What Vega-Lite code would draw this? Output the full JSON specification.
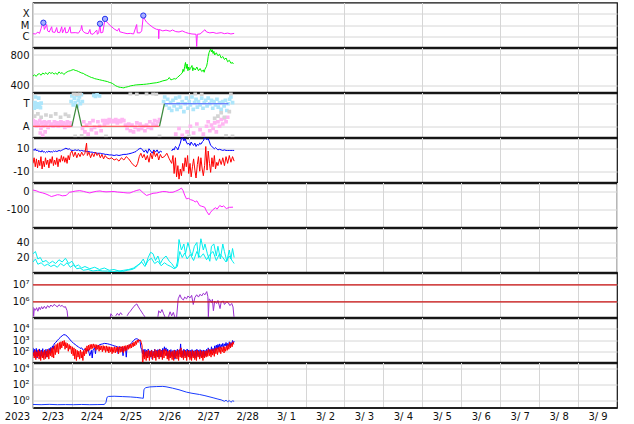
{
"$schema": "https://vega.github.io/schema/vega-lite/v6.json",
"padding": {"left": 3, "top": 1.5, "right": 2, "bottom": 2},
"bounds": "flush",
"spacing": 0,
"config": {
 "view": {"stroke": "#111", "strokeWidth": 1.2},
 "axis": {"labelFont": "DejaVu Sans", "labelColor": "#111", "gridColor": "#d6d6d6", "ticks": false, "domain": false, "titleFont": "DejaVu Sans"},
 "axisY": {"labelFontSize": 10, "labelPadding": 4, "grid": true, "labelOverlap": false, "labelBound": false},
 "axisX": {"domain": true, "domainWidth": 2.5, "domainColor": "#222", "grid": true, "labelFontSize": 10},
 "legend": {"disable": true}
},
"datasets": {
 "xray": [{"h":0,"f":1.7e-6},{"h":1.5,"f":1.6e-6},{"h":3,"f":2.3e-6},{"h":4,"f":1.8e-6},{"h":5,"f":5e-6},{"h":5.5,"f":9e-6},{"h":6.4,"f":1.5e-5},{"h":7,"f":4e-6},{"h":8.4,"f":1.1e-5},{"h":9,"f":3e-6},{"h":10,"f":2.4e-6},{"h":11.5,"f":7e-6},{"h":12,"f":2.4e-6},{"h":13.5,"f":2.2e-6},{"h":14.6,"f":6e-6},{"h":15.2,"f":2.2e-6},{"h":16.5,"f":2.1e-6},{"h":17.7,"f":7e-6},{"h":18.2,"f":2e-6},{"h":19.7,"f":6e-6},{"h":20.2,"f":2e-6},{"h":21.5,"f":2.2e-6},{"h":22.8,"f":7e-6},{"h":23.3,"f":2e-6},{"h":26,"f":2.1e-6},{"h":28,"f":1.9e-6},{"h":29.5,"f":4e-6},{"h":30,"f":9e-6},{"h":30.6,"f":3e-6},{"h":32,"f":2e-6},{"h":34,"f":1.7e-6},{"h":35.1,"f":4e-6},{"h":35.5,"f":1.7e-6},{"h":37,"f":1.5e-6},{"h":39.3,"f":3.5e-6},{"h":39.7,"f":1.5e-6},{"h":40.5,"f":2e-6},{"h":41.3,"f":1.2e-5},{"h":41.8,"f":2e-6},{"h":43,"f":2.2e-6},{"h":44.4,"f":3.3e-5},{"h":46,"f":1.5e-5},{"h":48,"f":8e-6},{"h":50,"f":4.5e-6},{"h":52,"f":3e-6},{"h":53,"f":5e-6},{"h":53.5,"f":2.5e-6},{"h":56,"f":2e-6},{"h":58,"f":1.7e-6},{"h":60,"f":1.8e-6},{"h":62,"f":1.6e-6},{"h":63.9,"f":1.1e-5},{"h":64.3,"f":2e-6},{"h":66,"f":2e-6},{"h":67,"f":3e-6},{"h":68,"f":6.5e-5},{"h":69,"f":3e-5},{"h":70,"f":1.8e-5},{"h":72,"f":1e-5},{"h":74,"f":6e-6},{"h":76,"f":4.2e-6},{"h":77.3,"f":4e-6},{"h":77.5,"f":6e-7},{"h":77.8,"f":4e-6},{"h":80,"f":3e-6},{"h":82,"f":3.5e-6},{"h":84.5,"f":2.8e-6},{"h":86,"f":3.6e-6},{"h":88,"f":2.6e-6},{"h":90,"f":2.4e-6},{"h":92,"f":3e-6},{"h":94,"f":2.2e-6},{"h":96,"f":1.8e-6},{"h":98,"f":1.6e-6},{"h":100.5,"f":1.5e-6},{"h":100.9,"f":1.2e-7},{"h":101.3,"f":1.5e-6},{"h":103,"f":1.6e-6},{"h":106,"f":3.8e-6},{"h":107,"f":2.4e-6},{"h":109,"f":2e-6},{"h":111,"f":2.2e-6},{"h":113,"f":1.8e-6},{"h":116,"f":2.1e-6},{"h":118,"f":1.7e-6},{"h":120,"f":1.9e-6},{"h":122,"f":1.6e-6},{"h":124,"f":1.8e-6}],
 "flares": [{"h":6.4,"f":1.6e-5},{"h":41.3,"f":1.3e-5},{"h":44.4,"f":3.5e-5},{"h":68,"f":6.9e-5}],
 "sw": [{"h":0,"v":520},{"h":1,"v":535},{"h":2,"v":515},{"h":3,"v":545},{"h":4,"v":550},{"h":5,"v":530},{"h":6,"v":560},{"h":7,"v":545},{"h":8,"v":565},{"h":9,"v":540},{"h":10,"v":570},{"h":11,"v":555},{"h":12,"v":565},{"h":13,"v":545},{"h":14,"v":560},{"h":15,"v":540},{"h":16,"v":575},{"h":17,"v":555},{"h":18,"v":565},{"h":19,"v":540},{"h":20,"v":560},{"h":21,"v":575},{"h":22,"v":585},{"h":23,"v":590},{"h":24,"v":600},{"h":25,"v":605},{"h":26,"v":595},{"h":27,"v":590},{"h":28,"v":580},{"h":29,"v":570},{"h":30,"v":560},{"h":31,"v":555},{"h":32,"v":540},{"h":33,"v":530},{"h":34,"v":520},{"h":35,"v":510},{"h":36,"v":500},{"h":37,"v":495},{"h":38,"v":485},{"h":39,"v":480},{"h":40,"v":475},{"h":41,"v":470},{"h":42,"v":465},{"h":43,"v":460},{"h":44,"v":455},{"h":45,"v":450},{"h":46,"v":445},{"h":47,"v":435},{"h":48,"v":430},{"h":49,"v":420},{"h":50,"v":405},{"h":51,"v":390},{"h":52,"v":380},{"h":53,"v":372},{"h":54,"v":368},{"h":55,"v":365},{"h":56,"v":362},{"h":57,"v":370},{"h":58,"v":375},{"h":59,"v":380},{"h":60,"v":388},{"h":61,"v":392},{"h":62,"v":395},{"h":63,"v":400},{"h":64,"v":402},{"h":66,"v":405},{"h":68,"v":408},{"h":70,"v":412},{"h":72,"v":418},{"h":74,"v":425},{"h":76,"v":430},{"h":78,"v":440},{"h":80,"v":455},{"h":82,"v":465},{"h":83,"v":472},{"h":84,"v":500},{"h":85,"v":468},{"h":86,"v":475},{"h":87,"v":485},{"h":88,"v":480},{"h":89,"v":500},{"h":90,"v":520},{"h":91,"v":540},{"h":92,"v":560},{"h":92.5,"v":610},{"h":93,"v":580},{"h":93.5,"v":650},{"h":94,"v":700},{"h":94.5,"v":620},{"h":95,"v":680},{"h":95.5,"v":590},{"h":96,"v":640},{"h":96.5,"v":600},{"h":97,"v":620},{"h":98,"v":660},{"h":98.5,"v":590},{"h":99,"v":630},{"h":100,"v":600},{"h":101,"v":640},{"h":102,"v":590},{"h":103,"v":620},{"h":104,"v":580},{"h":105,"v":600},{"h":105.5,"v":570},{"h":106,"v":610},{"h":107,"v":650},{"h":107.5,"v":700},{"h":108,"v":780},{"h":108.5,"v":830},{"h":109,"v":860},{"h":109.5,"v":880},{"h":110,"v":840},{"h":110.5,"v":870},{"h":111,"v":820},{"h":111.5,"v":850},{"h":112,"v":800},{"h":113,"v":830},{"h":114,"v":790},{"h":115,"v":810},{"h":116,"v":760},{"h":117,"v":780},{"h":118,"v":740},{"h":119,"v":760},{"h":120,"v":710},{"h":121,"v":730},{"h":122,"v":690},{"h":123,"v":700},{"h":123.5,"v":680}],
 "polpts": [{"h":0.3,"v":0.9,"k":"T"},{"h":0.8,"v":0.6,"k":"T"},{"h":1.2,"v":1.1,"k":"T"},{"h":1.5,"v":1.6,"k":"T"},{"h":1.8,"v":0.8,"k":"T"},{"h":2.3,"v":0.7,"k":"T"},{"h":2.9,"v":1.0,"k":"T"},{"h":3.4,"v":0.75,"k":"T"},{"h":3.5,"v":1.5,"k":"T"},{"h":4.0,"v":0.9,"k":"T"},{"h":4.6,"v":0.65,"k":"T"},{"h":5.0,"v":1.05,"k":"T"},{"h":23.5,"v":1.2,"k":"T"},{"h":24,"v":1.7,"k":"T"},{"h":24.8,"v":0.9,"k":"T"},{"h":25.5,"v":1.5,"k":"T"},{"h":26,"v":1.1,"k":"T"},{"h":26.7,"v":1.75,"k":"T"},{"h":27.3,"v":0.8,"k":"T"},{"h":28,"v":1.3,"k":"T"},{"h":28.6,"v":1.6,"k":"T"},{"h":29.2,"v":1.0,"k":"T"},{"h":29.8,"v":1.8,"k":"T"},{"h":30.4,"v":1.2,"k":"T"},{"h":37.5,"v":1.75,"k":"T"},{"h":38.5,"v":1.65,"k":"T"},{"h":39.5,"v":1.8,"k":"T"},{"h":41,"v":1.7,"k":"T"},{"h":80.5,"v":1.2,"k":"T"},{"h":81.2,"v":1.6,"k":"T"},{"h":82,"v":0.9,"k":"T"},{"h":83,"v":1.4,"k":"T"},{"h":84,"v":0.6,"k":"T"},{"h":84.8,"v":1.1,"k":"T"},{"h":85.5,"v":0.4,"k":"T"},{"h":86.3,"v":1.3,"k":"T"},{"h":87,"v":0.8,"k":"T"},{"h":88,"v":1.5,"k":"T"},{"h":88.8,"v":0.5,"k":"T"},{"h":89.5,"v":1.0,"k":"T"},{"h":90.3,"v":1.6,"k":"T"},{"h":91,"v":0.7,"k":"T"},{"h":92,"v":1.2,"k":"T"},{"h":93,"v":0.3,"k":"T"},{"h":93.8,"v":1.0,"k":"T"},{"h":94.6,"v":1.5,"k":"T"},{"h":95.5,"v":0.6,"k":"T"},{"h":96.3,"v":1.2,"k":"T"},{"h":97,"v":0.9,"k":"T"},{"h":98,"v":1.6,"k":"T"},{"h":98.8,"v":0.5,"k":"T"},{"h":99.6,"v":1.1,"k":"T"},{"h":100.5,"v":1.4,"k":"T"},{"h":101.3,"v":0.7,"k":"T"},{"h":102,"v":1.2,"k":"T"},{"h":103,"v":0.9,"k":"T"},{"h":104,"v":1.5,"k":"T"},{"h":104.8,"v":0.6,"k":"T"},{"h":105.6,"v":1.1,"k":"T"},{"h":106.5,"v":1.3,"k":"T"},{"h":107.3,"v":0.8,"k":"T"},{"h":108,"v":1.5,"k":"T"},{"h":109,"v":1.0,"k":"T"},{"h":110,"v":1.3,"k":"T"},{"h":110.8,"v":0.6,"k":"T"},{"h":111.6,"v":1.2,"k":"T"},{"h":112.5,"v":0.9,"k":"T"},{"h":113.4,"v":1.4,"k":"T"},{"h":114.2,"v":0.7,"k":"T"},{"h":115,"v":1.1,"k":"T"},{"h":116,"v":0.5,"k":"T"},{"h":117,"v":1.2,"k":"T"},{"h":117.8,"v":0.8,"k":"T"},{"h":118.6,"v":1.3,"k":"T"},{"h":119.5,"v":0.4,"k":"T"},{"h":120.3,"v":1.0,"k":"T"},{"h":121.2,"v":1.4,"k":"T"},{"h":122,"v":1.6,"k":"T"},{"h":123,"v":1.1,"k":"T"},
 {"h":0.2,"v":-0.5,"k":"A"},{"h":0.9,"v":-0.8,"k":"A"},{"h":1.6,"v":-0.6,"k":"A"},{"h":2.2,"v":-1.0,"k":"A"},{"h":2.8,"v":-0.7,"k":"A"},{"h":3.5,"v":-0.9,"k":"A"},{"h":4.2,"v":-0.5,"k":"A"},{"h":4.5,"v":-1.6,"k":"A"},{"h":4.9,"v":-1.2,"k":"A"},{"h":5.5,"v":-0.7,"k":"A"},{"h":6,"v":-1.8,"k":"A"},{"h":6.2,"v":-1.0,"k":"A"},{"h":7,"v":-0.6,"k":"A"},{"h":7.5,"v":-1.5,"k":"A"},{"h":7.8,"v":-0.9,"k":"A"},{"h":8.5,"v":-0.7,"k":"A"},{"h":9.3,"v":-1.1,"k":"A"},{"h":10,"v":-0.6,"k":"A"},{"h":10.8,"v":-0.9,"k":"A"},{"h":11.6,"v":-0.8,"k":"A"},{"h":12.4,"v":-1.0,"k":"A"},{"h":13.2,"v":-0.6,"k":"A"},{"h":14,"v":-0.9,"k":"A"},{"h":14.8,"v":-0.7,"k":"A"},{"h":15.6,"v":-1.0,"k":"A"},{"h":16.4,"v":-0.8,"k":"A"},{"h":17.2,"v":-0.6,"k":"A"},{"h":18,"v":-0.9,"k":"A"},{"h":18.8,"v":-0.7,"k":"A"},{"h":19.6,"v":-1.1,"k":"A"},{"h":20.4,"v":-0.8,"k":"A"},{"h":21.2,"v":-0.6,"k":"A"},{"h":22,"v":-1.0,"k":"A"},{"h":22.8,"v":-0.7,"k":"A"},{"h":23.6,"v":-0.9,"k":"A"},{"h":30.5,"v":-1.2,"k":"A"},{"h":31.3,"v":-0.6,"k":"A"},{"h":32,"v":-1.5,"k":"A"},{"h":33,"v":-0.9,"k":"A"},{"h":34,"v":-1.7,"k":"A"},{"h":35,"v":-0.7,"k":"A"},{"h":36,"v":-1.3,"k":"A"},{"h":37,"v":-0.5,"k":"A"},{"h":38,"v":-1.1,"k":"A"},{"h":39,"v":-1.6,"k":"A"},{"h":40,"v":-0.6,"k":"A"},{"h":41,"v":-1.0,"k":"A"},{"h":42,"v":-1.4,"k":"A"},{"h":43,"v":-0.5,"k":"A"},{"h":44,"v":-0.8,"k":"A"},{"h":45,"v":-0.5,"k":"A"},{"h":46,"v":-0.7,"k":"A"},{"h":47,"v":-0.4,"k":"A"},{"h":48,"v":-0.6,"k":"A"},{"h":49,"v":-0.5,"k":"A"},{"h":50,"v":-0.6,"k":"A"},{"h":51,"v":-0.4,"k":"A"},{"h":52,"v":-0.7,"k":"A"},{"h":53,"v":-0.5,"k":"A"},{"h":54,"v":-0.6,"k":"A"},{"h":55,"v":-0.4,"k":"A"},{"h":56,"v":-0.5,"k":"A"},{"h":57,"v":-0.9,"k":"A"},{"h":58,"v":-1.2,"k":"A"},{"h":59,"v":-0.8,"k":"A"},{"h":60,"v":-1.4,"k":"A"},{"h":61,"v":-0.9,"k":"A"},{"h":62,"v":-1.5,"k":"A"},{"h":63,"v":-1.1,"k":"A"},{"h":64,"v":-0.7,"k":"A"},{"h":65,"v":-1.3,"k":"A"},{"h":66,"v":-0.8,"k":"A"},{"h":67,"v":-1.2,"k":"A"},{"h":68,"v":-1.0,"k":"A"},{"h":69,"v":-1.4,"k":"A"},{"h":70,"v":-0.9,"k":"A"},{"h":71,"v":-1.1,"k":"A"},{"h":72,"v":-0.6,"k":"A"},{"h":73,"v":-1.2,"k":"A"},{"h":74,"v":-0.8,"k":"A"},{"h":75,"v":-0.5,"k":"A"},{"h":76,"v":-0.9,"k":"A"},{"h":77,"v":-0.6,"k":"A"},{"h":78,"v":-0.4,"k":"A"},{"h":88,"v":-1.7,"k":"A"},{"h":90,"v":-1.2,"k":"A"},{"h":92,"v":-1.8,"k":"A"},{"h":95,"v":-1.5,"k":"A"},{"h":97,"v":-1.0,"k":"A"},{"h":99,"v":-1.6,"k":"A"},{"h":101,"v":-0.8,"k":"A"},{"h":103,"v":-1.3,"k":"A"},{"h":105,"v":-1.7,"k":"A"},{"h":107,"v":-1.0,"k":"A"},{"h":108,"v":-0.6,"k":"A"},{"h":109,"v":-1.4,"k":"A"},{"h":110,"v":-0.9,"k":"A"},{"h":111,"v":-1.2,"k":"A"},{"h":112,"v":-0.7,"k":"A"},{"h":113,"v":-1.5,"k":"A"},{"h":114,"v":-0.6,"k":"A"},{"h":115,"v":-1.0,"k":"A"},{"h":116,"v":-0.4,"k":"A"},{"h":117,"v":-0.8,"k":"A"},{"h":118,"v":-0.3,"k":"A"},{"h":119,"v":-0.6,"k":"A"},{"h":120,"v":-0.2,"k":"A"},
 {"h":1,"v":-0.1,"k":"G"},{"h":3,"v":0.1,"k":"G"},{"h":5,"v":-0.2,"k":"G"},{"h":8,"v":0.0,"k":"G"},{"h":11,"v":-0.1,"k":"G"},{"h":14,"v":0.1,"k":"G"},{"h":17,"v":-0.2,"k":"G"},{"h":20,"v":0.05,"k":"G"},{"h":22,"v":-0.1,"k":"G"},{"h":25,"v":1.9,"k":"G"},{"h":27,"v":1.85,"k":"G"},{"h":29,"v":1.9,"k":"G"},{"h":26,"v":-1.9,"k":"G"},{"h":30,"v":-1.85,"k":"G"},{"h":45,"v":-1.9,"k":"G"},{"h":60,"v":1.9,"k":"G"},{"h":64,"v":1.85,"k":"G"},{"h":70,"v":1.9,"k":"G"},{"h":74,"v":1.9,"k":"G"},{"h":76,"v":1.85,"k":"G"},{"h":78,"v":-1.9,"k":"G"},{"h":96,"v":-1.9,"k":"G"},{"h":100,"v":1.9,"k":"G"},{"h":104,"v":1.85,"k":"G"},{"h":112,"v":-0.3,"k":"G"},{"h":114,"v":-0.1,"k":"G"},{"h":116,"v":0.2,"k":"G"},{"h":118,"v":-0.2,"k":"G"},{"h":121,"v":0.3,"k":"G"},{"h":122,"v":1.9,"k":"G"},{"h":123,"v":-1.9,"k":"G"},{"h":119,"v":-1.85,"k":"G"}],
 "polline": [{"h":0,"v":-1,"seg":1,"state":"away"},{"h":24,"v":-1,"seg":1,"state":"away"},{"h":24,"v":-1,"seg":2,"state":"change"},{"h":27,"v":0.95,"seg":2,"state":"change"},{"h":30,"v":-1,"seg":2,"state":"change"},{"h":30,"v":-1,"seg":3,"state":"away"},{"h":78,"v":-1,"seg":3,"state":"away"},{"h":78,"v":-1,"seg":4,"state":"change"},{"h":81,"v":1,"seg":4,"state":"change"},{"h":81,"v":1,"seg":5,"state":"toward"},{"h":120.5,"v":1,"seg":5,"state":"toward"}],
 "imf": [{"h":0,"bt":9.5,"bz":-3},{"h":0.7,"bt":8.5,"bz":2},{"h":1.4,"bt":10,"bz":-6},{"h":2.1,"bt":8,"bz":1},{"h":2.8,"bt":9,"bz":-7},{"h":3.5,"bt":7.5,"bz":0},{"h":4.2,"bt":8,"bz":-5},{"h":4.9,"bt":7,"bz":3},{"h":5.6,"bt":8.5,"bz":-8},{"h":6.3,"bt":7,"bz":-1},{"h":7,"bt":7.5,"bz":-6},{"h":7.7,"bt":6.5,"bz":2},{"h":8.4,"bt":7.5,"bz":-4},{"h":9.1,"bt":7,"bz":0},{"h":9.8,"bt":8,"bz":-7},{"h":10.5,"bt":7,"bz":1},{"h":11.2,"bt":7.5,"bz":-3},{"h":11.9,"bt":7,"bz":3},{"h":12.6,"bt":8,"bz":-5},{"h":13.3,"bt":7.5,"bz":0},{"h":14,"bt":8,"bz":-4},{"h":14.7,"bt":7.5,"bz":2},{"h":15.4,"bt":8,"bz":-6},{"h":16.1,"bt":8.5,"bz":1},{"h":16.8,"bt":8,"bz":-2},{"h":17.5,"bt":8.5,"bz":4},{"h":18.2,"bt":9,"bz":-1},{"h":18.9,"bt":9.5,"bz":3},{"h":19.6,"bt":10,"bz":-2},{"h":20.3,"bt":10.5,"bz":2},{"h":21,"bt":10,"bz":-3},{"h":21.7,"bt":9.5,"bz":4},{"h":22.4,"bt":10,"bz":0},{"h":23.1,"bt":9,"bz":6},{"h":24,"bt":8.5,"bz":8},{"h":25,"bt":8.5,"bz":3},{"h":26,"bt":9,"bz":7},{"h":27,"bt":8.5,"bz":2},{"h":28,"bt":9,"bz":6},{"h":29,"bt":8,"bz":3},{"h":30,"bt":8.5,"bz":7},{"h":31,"bt":8,"bz":4},{"h":32,"bt":8,"bz":6},{"h":33,"bt":7.5,"bz":15},{"h":33.5,"bt":7.5,"bz":4},{"h":34.5,"bt":7.5,"bz":7},{"h":35.5,"bt":7,"bz":2},{"h":36.5,"bt":7,"bz":6},{"h":37.5,"bt":6.5,"bz":3},{"h":38.5,"bt":6.5,"bz":7},{"h":39.5,"bt":6,"bz":4},{"h":40.5,"bt":6,"bz":6},{"h":41.5,"bt":6,"bz":2},{"h":42.5,"bt":5.5,"bz":5},{"h":43.5,"bt":5.5,"bz":1},{"h":44.5,"bt":5,"bz":4},{"h":45.5,"bt":5,"bz":2},{"h":47,"bt":4.5,"bz":1},{"h":48.5,"bt":4.5,"bz":2},{"h":50,"bt":4,"bz":0},{"h":51.5,"bt":4.5,"bz":1},{"h":53,"bt":4,"bz":-1},{"h":54.5,"bt":4.5,"bz":2},{"h":56,"bt":5,"bz":0},{"h":57.5,"bt":5,"bz":3},{"h":59,"bt":5.5,"bz":1},{"h":60.5,"bt":6,"bz":-2},{"h":61.5,"bt":6.5,"bz":-4},{"h":62.5,"bt":7,"bz":-5},{"h":63.5,"bt":7.5,"bz":-6},{"h":64.5,"bt":9,"bz":-3},{"h":65.5,"bt":10,"bz":3},{"h":66.5,"bt":10.5,"bz":6},{"h":67.5,"bt":9,"bz":2},{"h":68.5,"bt":7,"bz":5},{"h":69.5,"bt":9,"bz":0},{"h":70.5,"bt":6,"bz":4},{"h":71.5,"bt":10,"bz":-2},{"h":72.5,"bt":8,"bz":6},{"h":73.5,"bt":6,"bz":1},{"h":74.5,"bt":9,"bz":8},{"h":75.5,"bt":7,"bz":3},{"h":76.5,"bt":9,"bz":6},{"h":77.5,"bt":6,"bz":0},{"h":78.5,"bt":8,"bz":5},{"h":79.5,"bt":7,"bz":2},{"h":81,"bt":null,"bz":3},{"h":82.5,"bt":null,"bz":6},{"h":84,"bt":null,"bz":1},{"h":85.5,"bt":8,"bz":-3},{"h":86.3,"bt":10,"bz":4},{"h":87,"bt":9,"bz":-12},{"h":87.8,"bt":12,"bz":2},{"h":88.5,"bt":11,"bz":-15},{"h":89.3,"bt":9,"bz":-5},{"h":90,"bt":12,"bz":-17},{"h":90.8,"bt":15,"bz":-8},{"h":91.5,"bt":19,"bz":-14},{"h":92.3,"bt":20,"bz":-3},{"h":93,"bt":17,"bz":-10},{"h":93.8,"bt":19,"bz":2},{"h":94.5,"bt":16,"bz":-6},{"h":95.3,"bt":14,"bz":4},{"h":96,"bt":15,"bz":-12},{"h":96.8,"bt":13,"bz":-3},{"h":97.5,"bt":16,"bz":-15},{"h":98.3,"bt":14,"bz":-6},{"h":99,"bt":13,"bz":1},{"h":99.8,"bt":15,"bz":-9},{"h":100.5,"bt":12,"bz":-16},{"h":101.3,"bt":14,"bz":-4},{"h":102,"bt":13,"bz":3},{"h":102.8,"bt":15,"bz":-10},{"h":103.5,"bt":14,"bz":2},{"h":104.3,"bt":16,"bz":-8},{"h":105,"bt":17,"bz":-14},{"h":105.8,"bt":20,"bz":-5},{"h":106.5,"bt":19,"bz":12},{"h":107.3,"bt":18,"bz":-9},{"h":108,"bt":19,"bz":8},{"h":108.8,"bt":16,"bz":-3},{"h":109.5,"bt":13,"bz":-11},{"h":110.3,"bt":12,"bz":2},{"h":111,"bt":11,"bz":-6},{"h":111.8,"bt":10,"bz":4},{"h":112.5,"bt":11,"bz":-8},{"h":113.3,"bt":10,"bz":-2},{"h":114,"bt":9,"bz":-5},{"h":115,"bt":9.5,"bz":1},{"h":116,"bt":9,"bz":-4},{"h":117,"bt":8.5,"bz":2},{"h":118,"bt":9,"bz":-5},{"h":119,"bt":8.5,"bz":3},{"h":120,"bt":8.5,"bz":-3},{"h":121,"bt":8.5,"bz":4},{"h":122,"bt":8.5,"bz":-2},{"h":123,"bt":8.5,"bz":3},{"h":124,"bt":8.5,"bz":-1}],
 "dst": [{"h":0,"v":8},{"h":2,"v":4},{"h":4,"v":-4},{"h":6,"v":-8},{"h":8,"v":-14},{"h":10,"v":-22},{"h":11.3,"v":-28},{"h":13,"v":-24},{"h":15,"v":-18},{"h":16.4,"v":-19},{"h":18,"v":-24},{"h":20.5,"v":-22},{"h":21.5,"v":-12},{"h":22.6,"v":-4},{"h":24,"v":-2},{"h":26,"v":2},{"h":28.8,"v":5},{"h":31,"v":1},{"h":33,"v":-4},{"h":35,"v":-8},{"h":37,"v":-3},{"h":39,"v":1},{"h":41.3,"v":3},{"h":43,"v":0},{"h":45,"v":-2},{"h":47.5,"v":-1},{"h":50,"v":0},{"h":52,"v":-3},{"h":53.6,"v":-4},{"h":56,"v":-6},{"h":58,"v":-8},{"h":59.8,"v":-8},{"h":62,"v":0},{"h":64,"v":6},{"h":65.9,"v":10},{"h":68,"v":-8},{"h":70,"v":-22},{"h":72,"v":-16},{"h":74,"v":-10},{"h":76.2,"v":-8},{"h":78,"v":-4},{"h":80,"v":0},{"h":82.2,"v":-1},{"h":84,"v":-5},{"h":86.3,"v":-4},{"h":88,"v":2},{"h":90,"v":10},{"h":91.5,"v":19},{"h":92.5,"v":5},{"h":93.5,"v":-20},{"h":94.6,"v":-41},{"h":96,"v":-38},{"h":97,"v":-45},{"h":98.8,"v":-50},{"h":100,"v":-58},{"h":101,"v":-52},{"h":102.7,"v":-78},{"h":104,"v":-82},{"h":105.8,"v":-87},{"h":107,"v":-110},{"h":108.5,"v":-130},{"h":109.5,"v":-115},{"h":111,"v":-100},{"h":112.5,"v":-90},{"h":113.5,"v":-98},{"h":115.1,"v":-78},{"h":116.5,"v":-85},{"h":117.5,"v":-80},{"h":119.2,"v":-95},{"h":121,"v":-88},{"h":123.3,"v":-87}],
 "cyan": [{"h":0,"v":25,"s":"a"},{"h":1.5,"v":28,"s":"a"},{"h":3,"v":18,"s":"a"},{"h":4.5,"v":20,"s":"a"},{"h":6,"v":14,"s":"a"},{"h":8,"v":16,"s":"a"},{"h":10,"v":12,"s":"a"},{"h":12,"v":15,"s":"a"},{"h":14,"v":12,"s":"a"},{"h":16,"v":17,"s":"a"},{"h":18,"v":14,"s":"a"},{"h":20,"v":19,"s":"a"},{"h":22,"v":12,"s":"a"},{"h":24,"v":15,"s":"a"},{"h":26,"v":8,"s":"a"},{"h":28,"v":10,"s":"a"},{"h":30,"v":6,"s":"a"},{"h":32,"v":8,"s":"a"},{"h":35,"v":5,"s":"a"},{"h":38,"v":7,"s":"a"},{"h":41,"v":4,"s":"a"},{"h":44,"v":6,"s":"a"},{"h":47,"v":3,"s":"a"},{"h":50,"v":4,"s":"a"},{"h":53,"v":2,"s":"a"},{"h":56,"v":3,"s":"a"},{"h":59,"v":4,"s":"a"},{"h":62,"v":6,"s":"a"},{"h":64,"v":9,"s":"a"},{"h":66,"v":12,"s":"a"},{"h":68,"v":18,"s":"a"},{"h":69.5,"v":10,"s":"a"},{"h":71,"v":20,"s":"a"},{"h":72.5,"v":27,"s":"a"},{"h":74,"v":25,"s":"a"},{"h":75.5,"v":16,"s":"a"},{"h":77,"v":22,"s":"a"},{"h":78.5,"v":12,"s":"a"},{"h":80,"v":18,"s":"a"},{"h":82,"v":22,"s":"a"},{"h":84,"v":15,"s":"a"},{"h":85.5,"v":12,"s":"a"},{"h":87,"v":7,"s":"a"},{"h":88,"v":6,"s":"a"},{"h":89,"v":14,"s":"a"},{"h":90,"v":44,"s":"a"},{"h":91.5,"v":30,"s":"a"},{"h":93,"v":38,"s":"a"},{"h":94,"v":25,"s":"a"},{"h":95.5,"v":40,"s":"a"},{"h":97,"v":28,"s":"a"},{"h":98,"v":22,"s":"a"},{"h":99.5,"v":35,"s":"a"},{"h":101,"v":40,"s":"a"},{"h":102,"v":20,"s":"a"},{"h":103.5,"v":45,"s":"a"},{"h":105,"v":30,"s":"a"},{"h":106,"v":38,"s":"a"},{"h":107.5,"v":25,"s":"a"},{"h":109,"v":15,"s":"a"},{"h":110,"v":35,"s":"a"},{"h":111.5,"v":38,"s":"a"},{"h":113,"v":22,"s":"a"},{"h":114,"v":35,"s":"a"},{"h":115.5,"v":18,"s":"a"},{"h":117,"v":38,"s":"a"},{"h":118,"v":28,"s":"a"},{"h":119.5,"v":15,"s":"a"},{"h":121,"v":30,"s":"a"},{"h":122,"v":18,"s":"a"},{"h":123,"v":32,"s":"a"},{"h":124,"v":20,"s":"a"},
 {"h":0,"v":14,"s":"b"},{"h":1.5,"v":18,"s":"b"},{"h":3,"v":11,"s":"b"},{"h":5,"v":13,"s":"b"},{"h":7,"v":9,"s":"b"},{"h":9,"v":11,"s":"b"},{"h":11,"v":8,"s":"b"},{"h":13,"v":10,"s":"b"},{"h":15,"v":7,"s":"b"},{"h":17,"v":12,"s":"b"},{"h":19,"v":9,"s":"b"},{"h":21,"v":13,"s":"b"},{"h":23,"v":7,"s":"b"},{"h":25,"v":10,"s":"b"},{"h":27,"v":5,"s":"b"},{"h":29,"v":6,"s":"b"},{"h":31,"v":3,"s":"b"},{"h":34,"v":4,"s":"b"},{"h":37,"v":2,"s":"b"},{"h":40,"v":3,"s":"b"},{"h":43,"v":2,"s":"b"},{"h":46,"v":2,"s":"b"},{"h":49,"v":1,"s":"b"},{"h":52,"v":2,"s":"b"},{"h":55,"v":1,"s":"b"},{"h":58,"v":3,"s":"b"},{"h":61,"v":4,"s":"b"},{"h":63,"v":6,"s":"b"},{"h":65,"v":10,"s":"b"},{"h":67,"v":14,"s":"b"},{"h":69,"v":8,"s":"b"},{"h":71,"v":16,"s":"b"},{"h":73,"v":19,"s":"b"},{"h":75,"v":12,"s":"b"},{"h":77,"v":15,"s":"b"},{"h":79,"v":9,"s":"b"},{"h":81,"v":13,"s":"b"},{"h":83,"v":10,"s":"b"},{"h":85,"v":8,"s":"b"},{"h":87,"v":5,"s":"b"},{"h":89,"v":8,"s":"b"},{"h":90.5,"v":28,"s":"b"},{"h":92,"v":20,"s":"b"},{"h":93.5,"v":26,"s":"b"},{"h":95,"v":18,"s":"b"},{"h":97,"v":24,"s":"b"},{"h":99,"v":16,"s":"b"},{"h":101,"v":28,"s":"b"},{"h":103,"v":20,"s":"b"},{"h":105,"v":25,"s":"b"},{"h":107,"v":17,"s":"b"},{"h":109,"v":24,"s":"b"},{"h":111,"v":28,"s":"b"},{"h":113,"v":16,"s":"b"},{"h":115,"v":25,"s":"b"},{"h":117,"v":20,"s":"b"},{"h":119,"v":14,"s":"b"},{"h":121,"v":22,"s":"b"},{"h":123,"v":15,"s":"b"},{"h":124,"v":12,"s":"b"}],
 "ele": [{"h":0,"v":5e5},{"h":0.4,"v":1.4e5},{"h":0.8,"v":4e5},{"h":1.5,"v":3.2e5},{"h":2.2,"v":4.5e5},{"h":3,"v":2.8e5},{"h":3.8,"v":4.8e5},{"h":4.5,"v":3.5e5},{"h":5.3,"v":5.2e5},{"h":6,"v":3.8e5},{"h":7,"v":5.5e5},{"h":8,"v":4e5},{"h":9,"v":6e5},{"h":10,"v":4.6e5},{"h":11,"v":6.5e5},{"h":12,"v":5.2e5},{"h":13,"v":7e5},{"h":14,"v":6e5},{"h":15,"v":5e5},{"h":16,"v":6.8e5},{"h":17,"v":5.5e5},{"h":18,"v":6.2e5},{"h":19,"v":4.8e5},{"h":20,"v":5.2e5},{"h":21,"v":3e5},{"h":21.5,"v":1.1e5},{"h":22,"v":null},{"h":47.5,"v":1.1e5},{"h":48,"v":2e5},{"h":49,"v":1.5e5},{"h":50,"v":null},{"h":51,"v":1.5e5},{"h":52,"v":2.1e5},{"h":53,"v":1.6e5},{"h":54,"v":2.3e5},{"h":55,"v":1.7e5},{"h":56,"v":null},{"h":58,"v":1.5e5},{"h":59,"v":2.2e5},{"h":60,"v":2.8e5},{"h":61,"v":3.8e5},{"h":62,"v":5e5},{"h":63,"v":6.5e5},{"h":64,"v":7.5e5},{"h":65,"v":5e5},{"h":66,"v":3.5e5},{"h":67,"v":2.5e5},{"h":68,"v":1.8e5},{"h":69,"v":1.3e5},{"h":69.5,"v":null},{"h":77,"v":1.3e5},{"h":77.5,"v":3e5},{"h":78.5,"v":2.2e5},{"h":79.5,"v":3.5e5},{"h":80.5,"v":2e5},{"h":81.5,"v":1.2e5},{"h":82,"v":null},{"h":83.5,"v":1.3e5},{"h":84.5,"v":2.6e5},{"h":85.5,"v":1.5e5},{"h":86.5,"v":2.4e5},{"h":87.5,"v":1.2e5},{"h":88,"v":null},{"h":88.5,"v":1.2e5},{"h":89.5,"v":1.5e6},{"h":90.6,"v":2.6e6},{"h":91.5,"v":1.6e6},{"h":92.7,"v":1.3e6},{"h":93.5,"v":1.9e6},{"h":94.7,"v":1.5e6},{"h":95.5,"v":2.2e6},{"h":96.8,"v":1.7e6},{"h":97.8,"v":2.4e6},{"h":98.8,"v":7e5},{"h":99.8,"v":1.8e6},{"h":100.9,"v":2.6e6},{"h":102,"v":1.9e6},{"h":103,"v":2.8e6},{"h":104,"v":2.2e6},{"h":105,"v":3.2e6},{"h":106,"v":2.6e6},{"h":107.1,"v":4e6},{"h":107.8,"v":2e6},{"h":108.1,"v":1.3e5},{"h":108.6,"v":1.5e6},{"h":109.1,"v":1.3e6},{"h":110,"v":9e5},{"h":110.6,"v":1.4e6},{"h":111.2,"v":3e5},{"h":112,"v":1.1e6},{"h":113.2,"v":8e5},{"h":114,"v":1.2e6},{"h":115.3,"v":4e5},{"h":116,"v":1e6},{"h":117.3,"v":1.1e6},{"h":118,"v":7e5},{"h":119.4,"v":1e6},{"h":120.3,"v":9e5},{"h":121.4,"v":6e5},{"h":122.5,"v":8e5},{"h":123.3,"v":5e5},{"h":123.9,"v":1.3e5}],
 "pblue": [{"h":0,"v":200},{"h":0.5,"v":40},{"h":1,"v":150},{"h":1.5,"v":30},{"h":2,"v":180},{"h":2.5,"v":25},{"h":3,"v":120},{"h":3.5,"v":40},{"h":4,"v":160},{"h":4.5,"v":22},{"h":5,"v":130},{"h":5.5,"v":35},{"h":6,"v":170},{"h":6.5,"v":28},{"h":7,"v":110},{"h":7.5,"v":45},{"h":8,"v":150},{"h":8.5,"v":30},{"h":9,"v":140},{"h":9.5,"v":50},{"h":10,"v":180},{"h":10.5,"v":60},{"h":11,"v":220},{"h":11.5,"v":80},{"h":12,"v":300},{"h":12.5,"v":150},{"h":13,"v":450},{"h":14,"v":600},{"h":15,"v":900},{"h":16,"v":1300},{"h":17,"v":1800},{"h":18,"v":2400},{"h":19,"v":3000},{"h":20,"v":2800},{"h":21,"v":2200},{"h":22,"v":1500},{"h":23,"v":1000},{"h":24,"v":700},{"h":25,"v":500},{"h":26,"v":400},{"h":27,"v":300},{"h":28,"v":250},{"h":29,"v":180},{"h":30,"v":200},{"h":31,"v":120},{"h":32,"v":160},{"h":33,"v":90},{"h":34,"v":150},{"h":35,"v":40},{"h":36,"v":120},{"h":36.5,"v":25},{"h":37,"v":130},{"h":38,"v":200},{"h":38.5,"v":60},{"h":39,"v":250},{"h":40,"v":300},{"h":41,"v":380},{"h":42,"v":420},{"h":43,"v":450},{"h":44,"v":500},{"h":45,"v":480},{"h":46,"v":460},{"h":47,"v":420},{"h":48,"v":380},{"h":49,"v":340},{"h":50,"v":300},{"h":51,"v":280},{"h":52,"v":240},{"h":52.5,"v":60},{"h":53,"v":260},{"h":54,"v":220},{"h":55,"v":200},{"h":55.5,"v":40},{"h":56,"v":220},{"h":57,"v":200},{"h":57.5,"v":30},{"h":58,"v":250},{"h":59,"v":300},{"h":60,"v":400},{"h":61,"v":600},{"h":62,"v":900},{"h":63,"v":1200},{"h":64,"v":1300},{"h":65,"v":1100},{"h":66,"v":800},{"h":66.5,"v":200},{"h":67,"v":150},{"h":67.5,"v":60},{"h":68,"v":140},{"h":68.5,"v":30},{"h":69,"v":150},{"h":69.5,"v":40},{"h":70,"v":120},{"h":70.5,"v":25},{"h":71,"v":160},{"h":71.5,"v":35},{"h":72,"v":110},{"h":72.5,"v":30},{"h":73,"v":130},{"h":73.5,"v":20},{"h":74,"v":100},{"h":74.5,"v":40},{"h":75,"v":150},{"h":75.5,"v":25},{"h":76,"v":120},{"h":76.5,"v":35},{"h":77,"v":140},{"h":77.5,"v":30},{"h":78,"v":160},{"h":78.5,"v":45},{"h":79,"v":130},{"h":79.5,"v":30},{"h":80,"v":180},{"h":80.5,"v":60},{"h":81,"v":250},{"h":81.5,"v":100},{"h":82,"v":200},{"h":82.5,"v":40},{"h":83,"v":150},{"h":83.5,"v":30},{"h":84,"v":120},{"h":84.5,"v":25},{"h":85,"v":140},{"h":85.5,"v":35},{"h":86,"v":110},{"h":86.5,"v":30},{"h":87,"v":130},{"h":87.5,"v":20},{"h":88,"v":120},{"h":88.5,"v":40},{"h":89,"v":150},{"h":89.5,"v":30},{"h":90,"v":130},{"h":90.5,"v":60},{"h":91,"v":450},{"h":91.5,"v":35},{"h":92,"v":110},{"h":92.5,"v":30},{"h":93,"v":150},{"h":93.5,"v":40},{"h":94,"v":120},{"h":94.5,"v":30},{"h":95,"v":160},{"h":95.5,"v":40},{"h":96,"v":130},{"h":96.5,"v":30},{"h":97,"v":120},{"h":97.5,"v":25},{"h":98,"v":140},{"h":98.5,"v":35},{"h":99,"v":110},{"h":99.5,"v":30},{"h":100,"v":130},{"h":100.5,"v":25},{"h":101,"v":150},{"h":101.5,"v":40},{"h":102,"v":120},{"h":102.5,"v":30},{"h":103,"v":140},{"h":103.5,"v":35},{"h":104,"v":120},{"h":104.5,"v":30},{"h":105,"v":130},{"h":105.5,"v":30},{"h":106,"v":120},{"h":106.5,"v":40},{"h":107,"v":150},{"h":107.5,"v":50},{"h":108,"v":200},{"h":108.5,"v":80},{"h":109,"v":150},{"h":109.5,"v":60},{"h":110,"v":250},{"h":110.5,"v":100},{"h":111,"v":180},{"h":111.5,"v":70},{"h":112,"v":300},{"h":112.5,"v":120},{"h":113,"v":350},{"h":113.5,"v":150},{"h":114,"v":400},{"h":114.5,"v":200},{"h":115,"v":450},{"h":115.5,"v":180},{"h":116,"v":400},{"h":116.5,"v":250},{"h":117,"v":500},{"h":117.5,"v":200},{"h":118,"v":450},{"h":118.5,"v":300},{"h":119,"v":600},{"h":119.5,"v":250},{"h":120,"v":500},{"h":120.5,"v":300},{"h":121,"v":700},{"h":121.5,"v":250},{"h":122,"v":600},{"h":122.5,"v":400},{"h":123,"v":900},{"h":123.5,"v":500},{"h":124,"v":800}],
 "pred": [{"h":0.25,"v":80},{"h":0.75,"v":25},{"h":1.25,"v":120},{"h":1.75,"v":18},{"h":2.25,"v":90},{"h":2.75,"v":30},{"h":3.25,"v":140},{"h":3.75,"v":20},{"h":4.25,"v":100},{"h":4.75,"v":15},{"h":5.25,"v":120},{"h":5.75,"v":25},{"h":6.25,"v":90},{"h":6.75,"v":18},{"h":7.25,"v":130},{"h":7.75,"v":22},{"h":8.25,"v":100},{"h":8.75,"v":30},{"h":9.25,"v":150},{"h":9.75,"v":20},{"h":10.25,"v":120},{"h":10.75,"v":40},{"h":11.25,"v":180},{"h":11.75,"v":30},{"h":12.25,"v":220},{"h":12.75,"v":25},{"h":13.25,"v":300},{"h":13.75,"v":50},{"h":14.25,"v":400},{"h":14.75,"v":80},{"h":15.25,"v":500},{"h":15.75,"v":60},{"h":16.25,"v":600},{"h":16.75,"v":150},{"h":17.25,"v":700},{"h":17.75,"v":200},{"h":18.25,"v":800},{"h":18.75,"v":300},{"h":19.25,"v":900},{"h":19.75,"v":150},{"h":20.25,"v":600},{"h":20.75,"v":200},{"h":21.25,"v":500},{"h":21.75,"v":100},{"h":22.25,"v":400},{"h":22.75,"v":150},{"h":23.25,"v":300},{"h":23.75,"v":60},{"h":24.25,"v":250},{"h":24.75,"v":40},{"h":25.25,"v":200},{"h":25.75,"v":20},{"h":26.25,"v":150},{"h":26.75,"v":15},{"h":27.25,"v":120},{"h":27.75,"v":30},{"h":28.25,"v":100},{"h":28.75,"v":20},{"h":29.25,"v":130},{"h":29.75,"v":25},{"h":30.25,"v":90},{"h":30.75,"v":15},{"h":31.25,"v":120},{"h":31.75,"v":40},{"h":32.25,"v":200},{"h":32.75,"v":60},{"h":33.25,"v":300},{"h":33.75,"v":100},{"h":34.25,"v":350},{"h":34.75,"v":120},{"h":35.25,"v":400},{"h":35.75,"v":150},{"h":36.25,"v":420},{"h":36.75,"v":180},{"h":37.25,"v":450},{"h":37.75,"v":200},{"h":38.25,"v":400},{"h":38.75,"v":120},{"h":39.25,"v":380},{"h":39.75,"v":150},{"h":40.25,"v":350},{"h":40.75,"v":100},{"h":41.25,"v":330},{"h":41.75,"v":130},{"h":42.25,"v":300},{"h":42.75,"v":90},{"h":43.25,"v":320},{"h":43.75,"v":120},{"h":44.25,"v":280},{"h":44.75,"v":80},{"h":45.25,"v":300},{"h":45.75,"v":100},{"h":46.25,"v":260},{"h":46.75,"v":70},{"h":47.25,"v":250},{"h":47.75,"v":90},{"h":48.25,"v":240},{"h":48.75,"v":60},{"h":49.25,"v":220},{"h":49.75,"v":80},{"h":50.25,"v":250},{"h":50.75,"v":70},{"h":51.25,"v":230},{"h":51.75,"v":90},{"h":52.25,"v":260},{"h":52.75,"v":60},{"h":53.25,"v":240},{"h":53.75,"v":80},{"h":54.25,"v":260},{"h":54.75,"v":90},{"h":55.25,"v":280},{"h":55.75,"v":70},{"h":56.25,"v":300},{"h":56.75,"v":100},{"h":57.25,"v":320},{"h":57.75,"v":120},{"h":58.25,"v":350},{"h":58.75,"v":150},{"h":59.25,"v":400},{"h":59.75,"v":180},{"h":60.25,"v":450},{"h":60.75,"v":200},{"h":61.25,"v":550},{"h":61.75,"v":250},{"h":62.25,"v":650},{"h":62.75,"v":300},{"h":63.25,"v":800},{"h":63.75,"v":400},{"h":64.25,"v":1000},{"h":64.75,"v":600},{"h":65.25,"v":1100},{"h":65.75,"v":900},{"h":66.25,"v":1000},{"h":66.75,"v":600},{"h":67.25,"v":300},{"h":67.5,"v":8},{"h":67.75,"v":8},{"h":68.25,"v":120},{"h":68.75,"v":20},{"h":69.25,"v":90},{"h":69.75,"v":15},{"h":70.25,"v":110},{"h":70.75,"v":25},{"h":71.25,"v":130},{"h":71.75,"v":15},{"h":72.25,"v":100},{"h":72.75,"v":30},{"h":73.25,"v":120},{"h":73.75,"v":18},{"h":74.25,"v":90},{"h":74.75,"v":25},{"h":75.25,"v":140},{"h":75.75,"v":15},{"h":76.25,"v":110},{"h":76.75,"v":30},{"h":77.25,"v":120},{"h":77.75,"v":20},{"h":78.25,"v":150},{"h":78.75,"v":30},{"h":79.25,"v":110},{"h":79.75,"v":18},{"h":80.25,"v":130},{"h":80.75,"v":25},{"h":81.25,"v":160},{"h":81.75,"v":40},{"h":82.25,"v":120},{"h":82.75,"v":20},{"h":83.25,"v":100},{"h":83.75,"v":15},{"h":84.25,"v":120},{"h":84.75,"v":25},{"h":85.25,"v":90},{"h":85.75,"v":18},{"h":86.25,"v":110},{"h":86.75,"v":15},{"h":87.25,"v":130},{"h":87.75,"v":25},{"h":88.25,"v":100},{"h":88.75,"v":20},{"h":89.25,"v":120},{"h":89.75,"v":15},{"h":90.25,"v":140},{"h":90.75,"v":30},{"h":91.25,"v":200},{"h":91.75,"v":25},{"h":92.25,"v":110},{"h":92.75,"v":18},{"h":93.25,"v":130},{"h":93.75,"v":25},{"h":94.25,"v":100},{"h":94.75,"v":15},{"h":95.25,"v":120},{"h":95.75,"v":30},{"h":96.25,"v":110},{"h":96.75,"v":18},{"h":97.25,"v":100},{"h":97.75,"v":15},{"h":98.25,"v":120},{"h":98.75,"v":25},{"h":99.25,"v":100},{"h":99.75,"v":18},{"h":100.25,"v":110},{"h":100.75,"v":15},{"h":101.25,"v":130},{"h":101.75,"v":30},{"h":102.25,"v":100},{"h":102.75,"v":20},{"h":103.25,"v":120},{"h":103.75,"v":25},{"h":104.25,"v":100},{"h":104.75,"v":15},{"h":105.25,"v":110},{"h":105.75,"v":25},{"h":106.25,"v":100},{"h":106.75,"v":30},{"h":107.25,"v":120},{"h":107.75,"v":35},{"h":108.25,"v":150},{"h":108.75,"v":40},{"h":109.25,"v":130},{"h":109.75,"v":30},{"h":110.25,"v":160},{"h":110.75,"v":45},{"h":111.25,"v":140},{"h":111.75,"v":35},{"h":112.25,"v":180},{"h":112.75,"v":60},{"h":113.25,"v":200},{"h":113.75,"v":50},{"h":114.25,"v":220},{"h":114.75,"v":80},{"h":115.25,"v":250},{"h":115.75,"v":60},{"h":116.25,"v":220},{"h":116.75,"v":90},{"h":117.25,"v":260},{"h":117.75,"v":70},{"h":118.25,"v":250},{"h":118.75,"v":100},{"h":119.25,"v":300},{"h":119.75,"v":120},{"h":120.25,"v":400},{"h":120.75,"v":150},{"h":121.25,"v":600},{"h":121.75,"v":200},{"h":122.25,"v":500},{"h":122.75,"v":250},{"h":123.25,"v":700},{"h":123.75,"v":400}],
 "p9": [{"h":0,"v":0.32},{"h":5,"v":0.3},{"h":10,"v":0.33},{"h":15,"v":0.3},{"h":20,"v":0.31},{"h":25,"v":0.3},{"h":30,"v":0.32},{"h":35,"v":0.3},{"h":40,"v":0.31},{"h":44,"v":0.32},{"h":45,"v":0.6},{"h":45.6,"v":2.5},{"h":46.5,"v":3.2},{"h":50,"v":3.4},{"h":55,"v":3.1},{"h":60,"v":2.8},{"h":64,"v":2.4},{"h":67,"v":2.0},{"h":68,"v":1.9},{"h":68.4,"v":25},{"h":69.5,"v":40},{"h":72,"v":50},{"h":76,"v":55},{"h":80,"v":58},{"h":82,"v":52},{"h":86,"v":35},{"h":90,"v":22},{"h":94.7,"v":11},{"h":98,"v":8},{"h":102.7,"v":5.6},{"h":106,"v":4},{"h":111,"v":2.2},{"h":114,"v":1.5},{"h":116,"v":1.2},{"h":118,"v":0.8},{"h":119,"v":1.1},{"h":120,"v":0.7},{"h":121,"v":1.0},{"h":122,"v":0.6},{"h":123,"v":0.9},{"h":124,"v":0.8}]
},
"vconcat": [
 {"width": 584, "height": 45, "layer": [
  {"data": {"name": "xray"}, "mark": {"type": "line", "color": "#ff22ff", "strokeWidth": 1, "clip": true},
   "encoding": {"x": {"field": "h", "type": "quantitative", "title": null, "scale": {"domain": [0, 360], "nice": false, "zero": false}, "axis": {"values": [0,24,48,72,96,120,144,168,192,216,240,264,288,312,336,360], "labels": false, "title": null}},
    "y": {"field": "f", "type": "quantitative", "title": null, "scale": {"type": "log", "domain": [1e-7, 1e-3], "nice": false}, "axis": {"values": [1e-4, 1e-5, 1e-6], "labelOverlap": false, "labelExpr": "datum.value > 5e-5 ? 'X' : datum.value > 5e-6 ? 'M' : 'C'", "title": null}}}},
  {"data": {"name": "flares"}, "mark": {"type": "point", "shape": "circle", "filled": true, "fill": "#a8b0ff", "stroke": "#2233ee", "strokeWidth": 1, "size": 28, "opacity": 1},
   "encoding": {"x": {"field": "h", "type": "quantitative", "title": null}, "y": {"field": "f", "type": "quantitative", "title": null, "axis": {"labelOverlap": false}}}},
  {"mark": {"type": "text", "text": "rt", "fontSize": 7, "color": "#333", "align": "left", "dx": 5, "baseline": "middle"},
   "encoding": {"x": {"datum": 360, "type": "quantitative"}, "y": {"datum": 1e-4, "type": "quantitative", "axis": {"labelOverlap": false}}}}
 ]},
 {"width": 584, "height": 45, "layer": [
  {"data": {"name": "sw"}, "mark": {"type": "line", "color": "#00ee00", "strokeWidth": 1, "clip": true},
   "encoding": {"x": {"field": "h", "type": "quantitative", "title": null, "scale": {"domain": [0, 360], "nice": false, "zero": false}, "axis": {"values": [0,24,48,72,96,120,144,168,192,216,240,264,288,312,336,360], "labels": false, "title": null}},
    "y": {"field": "v", "type": "quantitative", "title": null, "scale": {"domain": [300, 900], "nice": false, "zero": false}, "axis": {"values": [400, 600, 800], "labelOverlap": false, "title": null}}}},
  {"mark": {"type": "text", "text": "rt", "fontSize": 7, "color": "#333", "align": "left", "dx": 5, "baseline": "middle"},
   "encoding": {"x": {"datum": 360, "type": "quantitative"}, "y": {"datum": 800, "type": "quantitative", "axis": {"labelOverlap": false}}}}
 ]},
 {"width": 584, "height": 45, "resolve": {"scale": {"color": "independent"}}, "layer": [
  {"data": {"name": "polpts"}, "mark": {"type": "square", "size": 14, "opacity": 1, "clip": true},
   "encoding": {"x": {"field": "h", "type": "quantitative", "title": null, "scale": {"domain": [0, 360], "nice": false, "zero": false}, "axis": {"values": [0,24,48,72,96,120,144,168,192,216,240,264,288,312,336,360], "labels": false, "title": null}},
    "y": {"field": "v", "type": "quantitative", "title": null, "scale": {"domain": [-2, 2], "nice": false, "zero": false}, "axis": {"values": [1, -1], "labelOverlap": false, "labelExpr": "datum.value > 0 ? 'T' : 'A'", "title": null}},
    "color": {"field": "k", "type": "nominal", "scale": {"domain": ["T", "A", "G"], "range": ["#aee6fb", "#ffb6f2", "#d4d4d4"]}, "legend": null}}},
  {"mark": {"type": "rule", "color": "#666", "strokeWidth": 1}, "encoding": {"y": {"datum": 0, "type": "quantitative", "axis": {"labelOverlap": false}}}},
  {"data": {"name": "polline"}, "mark": {"type": "line", "strokeWidth": 1.2, "clip": true},
   "encoding": {"x": {"field": "h", "type": "quantitative", "title": null}, "y": {"field": "v", "type": "quantitative", "title": null, "axis": {"labelOverlap": false}}, "detail": {"field": "seg", "type": "nominal"},
    "color": {"field": "state", "type": "nominal", "scale": {"domain": ["away", "change", "toward"], "range": ["#ff3333", "#3c8a3c", "#4f5fff"]}, "legend": null}}},
  {"mark": {"type": "text", "text": "rt", "fontSize": 7, "color": "#333", "align": "left", "dx": 5, "baseline": "middle"},
   "encoding": {"x": {"datum": 360, "type": "quantitative"}, "y": {"datum": 1, "type": "quantitative", "axis": {"labelOverlap": false}}}}
 ]},
 {"width": 584, "height": 45, "layer": [
  {"data": {"name": "imf"}, "mark": {"type": "line", "color": "#0000ff", "strokeWidth": 1, "clip": true},
   "encoding": {"x": {"field": "h", "type": "quantitative", "title": null, "scale": {"domain": [0, 360], "nice": false, "zero": false}, "axis": {"values": [0,24,48,72,96,120,144,168,192,216,240,264,288,312,336,360], "labels": false, "title": null}},
    "y": {"field": "bt", "type": "quantitative", "title": null, "scale": {"domain": [-20, 20], "nice": false, "zero": false}, "axis": {"values": [10, 0, -10], "labelOverlap": false, "labelExpr": "datum.value < 0 ? '-' + abs(datum.value) : '' + datum.value", "title": null}}}},
  {"data": {"name": "imf"}, "mark": {"type": "line", "color": "#ff0000", "strokeWidth": 1, "clip": true},
   "encoding": {"x": {"field": "h", "type": "quantitative", "title": null}, "y": {"field": "bz", "type": "quantitative", "title": null, "axis": {"labelOverlap": false}}}},
  {"mark": {"type": "rule", "color": "#b00000", "strokeWidth": 1.4}, "encoding": {"y": {"datum": 0, "type": "quantitative", "axis": {"labelOverlap": false}}}},
  {"mark": {"type": "text", "text": "rt", "fontSize": 7, "color": "#333", "align": "left", "dx": 5, "baseline": "middle"},
   "encoding": {"x": {"datum": 360, "type": "quantitative"}, "y": {"datum": 10, "type": "quantitative", "axis": {"labelOverlap": false}}}}
 ]},
 {"width": 584, "height": 45, "layer": [
  {"mark": {"type": "rule", "color": "#d07070", "strokeWidth": 2}, "encoding": {"y": {"datum": 0, "type": "quantitative", "scale": {"domain": [-200, 50], "nice": false, "zero": false}, "axis": {"values": [0, -100], "labelOverlap": false, "labelExpr": "datum.value < 0 ? '-' + abs(datum.value) : '' + datum.value", "title": null}}}},
  {"data": {"name": "dst"}, "mark": {"type": "line", "color": "#ff22ff", "strokeWidth": 1, "clip": true},
   "encoding": {"x": {"field": "h", "type": "quantitative", "title": null, "scale": {"domain": [0, 360], "nice": false, "zero": false}, "axis": {"values": [0,24,48,72,96,120,144,168,192,216,240,264,288,312,336,360], "labels": false, "title": null}},
    "y": {"field": "v", "type": "quantitative", "title": null, "axis": {"labelOverlap": false}}}}
 ]},
 {"width": 584, "height": 45, "layer": [
  {"data": {"name": "cyan"}, "mark": {"type": "line", "color": "#00eeee", "strokeWidth": 1, "clip": true},
   "encoding": {"x": {"field": "h", "type": "quantitative", "title": null, "scale": {"domain": [0, 360], "nice": false, "zero": false}, "axis": {"values": [0,24,48,72,96,120,144,168,192,216,240,264,288,312,336,360], "labels": false, "title": null}},
    "y": {"field": "v", "type": "quantitative", "title": null, "scale": {"domain": [0, 60], "nice": false, "zero": false}, "axis": {"values": [20, 40], "labelOverlap": false, "title": null}},
    "detail": {"field": "s", "type": "nominal"}}}
 ]},
 {"width": 584, "height": 45, "layer": [
  {"data": {"name": "ele"}, "mark": {"type": "line", "color": "#9a30d0", "strokeWidth": 1, "clip": true},
   "encoding": {"x": {"field": "h", "type": "quantitative", "title": null, "scale": {"domain": [0, 360], "nice": false, "zero": false}, "axis": {"values": [0,24,48,72,96,120,144,168,192,216,240,264,288,312,336,360], "labels": false, "title": null}},
    "y": {"field": "v", "type": "quantitative", "title": null, "scale": {"type": "log", "domain": [1.2e5, 5.3e7], "nice": false}, "axis": {"values": [1e6, 1e7], "labelOverlap": false, "labelExpr": "'10' + (datum.value > 5e6 ? '⁷' : '⁶')", "title": null}}}},
  {"data": {"values": [{"lv": 1e6}, {"lv": 1e7}]}, "mark": {"type": "rule", "color": "#cc1111", "strokeWidth": 1.3}, "encoding": {"y": {"field": "lv", "type": "quantitative", "title": null, "axis": {"labelOverlap": false}}}},
  {"mark": {"type": "text", "text": "rt", "fontSize": 7, "color": "#333", "align": "left", "dx": 5, "baseline": "middle"},
   "encoding": {"x": {"datum": 360, "type": "quantitative"}, "y": {"datum": 1e7, "type": "quantitative", "axis": {"labelOverlap": false}}}}
 ]},
 {"width": 584, "height": 45, "layer": [
  {"data": {"name": "pblue"}, "mark": {"type": "line", "color": "#0000ff", "strokeWidth": 1, "clip": true},
   "encoding": {"x": {"field": "h", "type": "quantitative", "title": null, "scale": {"domain": [0, 360], "nice": false, "zero": false}, "axis": {"values": [0,24,48,72,96,120,144,168,192,216,240,264,288,312,336,360], "labels": false, "title": null}},
    "y": {"field": "v", "type": "quantitative", "title": null, "scale": {"type": "log", "domain": [10, 1e5], "nice": false}, "axis": {"values": [100, 1000, 10000], "labelOverlap": false, "labelExpr": "'10' + (datum.value > 5000 ? '⁴' : datum.value > 500 ? '³' : '²')", "title": null}}}},
  {"data": {"name": "pred"}, "mark": {"type": "line", "color": "#ff0000", "strokeWidth": 1, "clip": true},
   "encoding": {"x": {"field": "h", "type": "quantitative", "title": null}, "y": {"field": "v", "type": "quantitative", "title": null, "axis": {"labelOverlap": false}}}},
  {"mark": {"type": "rule", "color": "#dd2222", "strokeWidth": 1.5, "strokeDash": [8, 5]}, "encoding": {"y": {"datum": 10000, "type": "quantitative", "axis": {"labelOverlap": false}}}},
  {"mark": {"type": "text", "text": "rt", "fontSize": 7, "color": "#333", "align": "left", "dx": 5, "baseline": "middle"},
   "encoding": {"x": {"datum": 360, "type": "quantitative"}, "y": {"datum": 10000, "type": "quantitative", "axis": {"labelOverlap": false}}}}
 ]},
 {"width": 584, "height": 45, "layer": [
  {"data": {"name": "p9"}, "mark": {"type": "line", "color": "#1a3cff", "strokeWidth": 1, "clip": true},
   "encoding": {"x": {"field": "h", "type": "quantitative", "title": null, "scale": {"domain": [0, 360], "nice": false, "zero": false},
     "axis": {"values": [0,24,48,72,96,120,144,168,192,216,240,264,288,312,336], "labels": true, "labelOffset": 19.5, "labelFlush": false, "labelOverlap": false, "labelBound": false, "labelPadding": 4, "labelFontSize": 10,
      "labelExpr": "(datum.value / 24 + 23) <= 28 ? '2/' + (datum.value / 24 + 23) : '3/ ' + (datum.value / 24 - 5)",
      "title": "2023", "titleFontSize": 10, "titleFontWeight": "normal", "titleX": -16, "titleY": 4, "titleAlign": "center", "titleBaseline": "top", "titleColor": "#111", "domainWidth": 2}},
    "y": {"field": "v", "type": "quantitative", "title": null, "scale": {"type": "log", "domain": [0.1334, 56234], "nice": false}, "axis": {"values": [1, 100, 10000], "labelOverlap": false, "labelExpr": "'10' + (datum.value > 5000 ? '⁴' : datum.value > 50 ? '²' : '⁰')", "title": null}}}}
 ]}
]
}
